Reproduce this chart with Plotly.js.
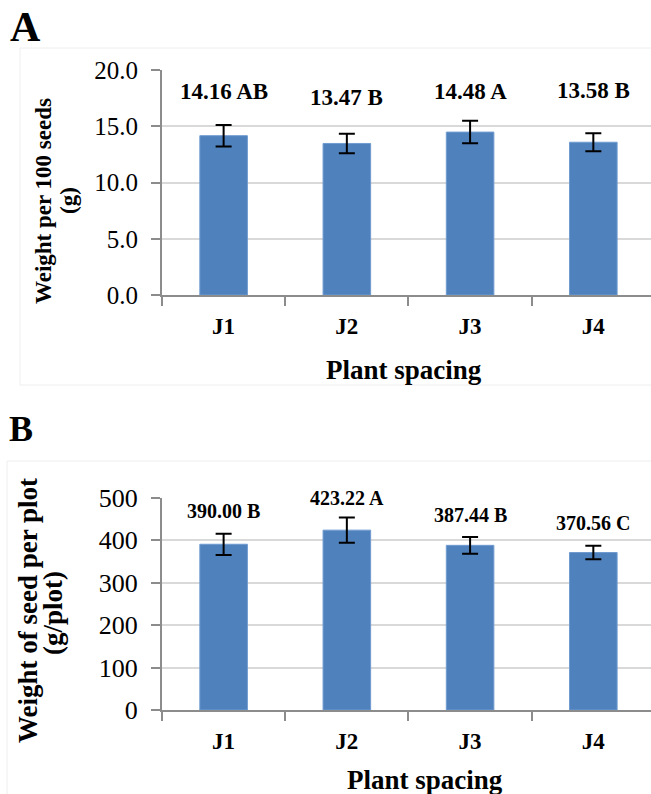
<!DOCTYPE html>
<html>
<head>
<meta charset="utf-8">
<script src="https://cdn.plot.ly/plotly-3.0.1.min.js"></script>
<style>html,body{margin:0;padding:0;background:#fff;}#chart{width:651px;height:794px;}</style>
</head>
<body>
<div id="chart"></div>
<script>
// ---- data ----
const categories = ['J1', 'J2', 'J3', 'J4'];
const seedWeight100 = [14.16, 13.47, 14.48, 13.58];
const seedWeight100Err = [0.95, 0.86, 1.0, 0.8];
const seedWeight100Labels = ['14.16 AB', '13.47 B', '14.48 A', '13.58 B'];
const seedWeightPlot = [390.00, 423.22, 387.44, 370.56];
const seedWeightPlotErr = [25, 29.5, 19.5, 15.7];
const seedWeightPlotLabels = ['390.00 B', '423.22 A', '387.44 B', '370.56 C'];
const yTicksA = [0, 5, 10, 15, 20];
const yTicksB = [0, 100, 200, 300, 400, 500];

// ---- layout helpers ----
const W = 651, H = 794;
const px = v => v / W;
const py = v => 1 - v / H;
const serif = '"Liberation Serif", "Times New Roman", serif';
const barColor = '#4F81BD';
const gridColor = '#d9d9d9';
const axisColor = '#8c8c8c';

const labelYA = [18.07, 17.56, 18.07, 18.16];
const labelYB = [469, 500, 459, 439];

const errStyle = { type: 'data', color: '#000', thickness: 2, width: 8, visible: true };

const traces = [
  {
    type: 'bar', x: categories, y: seedWeight100, xaxis: 'x', yaxis: 'y',
    width: 0.386,
    marker: { color: barColor, line: { color: '#6f9bd0', width: 1 } },
    error_y: Object.assign({ array: seedWeight100Err }, errStyle),
    hoverinfo: 'none'
  },
  {
    type: 'bar', x: categories, y: seedWeightPlot, xaxis: 'x2', yaxis: 'y2',
    width: 0.386,
    marker: { color: barColor, line: { color: '#6f9bd0', width: 1 } },
    error_y: Object.assign({ array: seedWeightPlotErr }, errStyle),
    hoverinfo: 'none'
  }
];

function xAxis(anchor) {
  return {
    anchor: anchor, domain: [px(162), 1], type: 'category',
    range: [-0.5, 3.468], showgrid: false, zeroline: false,
    showline: true, linecolor: axisColor, linewidth: 2,
    ticks: 'outside', tickson: 'boundaries', ticklen: 9, tickwidth: 2, tickcolor: axisColor,
    tickfont: { family: serif, size: 23, color: '#000', weight: 'bold' },
    ticklabelstandoff: 9, fixedrange: true
  };
}
function yAxis(anchor, domain, range, ticks, fmt, size) {
  return {
    anchor: anchor, domain: domain, range: range,
    tickmode: 'array', tickvals: ticks, tickformat: fmt,
    showgrid: true, gridcolor: gridColor, gridwidth: 2, zeroline: false,
    showline: true, linecolor: axisColor, linewidth: 2,
    ticks: 'outside', ticklen: 9, tickwidth: 2, tickcolor: axisColor,
    tickfont: { family: serif, size: size, color: '#000' },
    ticklabelstandoff: 8, fixedrange: true
  };
}

const annotations = [];
function ann(text, x, y, size, extra) {
  annotations.push(Object.assign({
    text: text, x: px(x), y: py(y), xref: 'paper', yref: 'paper',
    xanchor: 'center', yanchor: 'middle', showarrow: false,
    font: { family: serif, size: size, color: '#000', weight: 'bold' }
  }, extra || {}));
}
// panel letters
ann('A', 25, 27, 42);
ann('B', 21, 429, 36);
// y titles
ann('Weight per 100 seeds', 43, 201, 23, { textangle: -90 });
ann('(g)', 68, 201, 23, { textangle: -90 });
ann('Weight of seed per plot', 28, 611, 27, { textangle: -90 });
ann('(g/plot)', 53, 613, 27, { textangle: -90 });
// x titles
ann('Plant spacing', 404, 370, 27);
ann('Plant spacing', 425, 780, 27);
// value labels
categories.forEach((c, i) => {
  annotations.push({
    text: seedWeight100Labels[i], x: c, y: labelYA[i], xref: 'x', yref: 'y',
    xanchor: 'center', yanchor: 'middle', showarrow: false,
    font: { family: serif, size: 23, color: '#000', weight: 'bold' }
  });
  annotations.push({
    text: seedWeightPlotLabels[i], x: c, y: labelYB[i], xref: 'x2', yref: 'y2',
    xanchor: 'center', yanchor: 'middle', showarrow: false,
    font: { family: serif, size: 20, color: '#000', weight: 'bold' }
  });
});

const layout = {
  width: W, height: H,
  margin: { l: 0, r: 0, t: 0, b: 0, pad: 0 },
  paper_bgcolor: '#fff', plot_bgcolor: '#fff',
  showlegend: false,
  xaxis: xAxis('y'),
  xaxis2: xAxis('y2'),
  yaxis: yAxis('x', [py(295), py(70)], [0, 20], yTicksA, '.1f', 25),
  yaxis2: yAxis('x2', [py(710), py(497.5)], [0, 500], yTicksB, 'd', 26),
  annotations: annotations,
  shapes: [
    { type: 'rect', xref: 'paper', yref: 'paper', x0: px(20), x1: px(660), y0: py(385), y1: py(48),
      line: { color: '#eeeeee', width: 1 }, layer: 'below' },
    { type: 'rect', xref: 'paper', yref: 'paper', x0: px(7), x1: px(660), y0: py(800), y1: py(461),
      line: { color: '#eeeeee', width: 1 }, layer: 'below' }
  ]
};

Plotly.newPlot('chart', traces, layout, { staticPlot: true, displayModeBar: false });
</script>
</body>
</html>
